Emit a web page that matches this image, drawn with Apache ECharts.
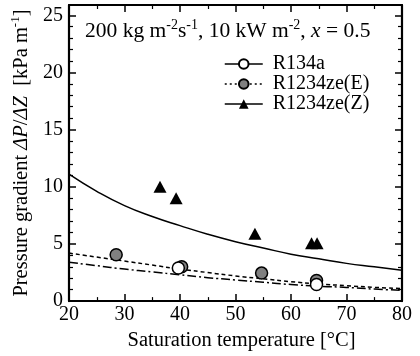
<!DOCTYPE html>
<html>
<head>
<meta charset="utf-8">
<script src="https://cdn.jsdelivr.net/npm/echarts@6/dist/echarts.min.js"></script>
<style>html,body{margin:0;padding:0;background:#fff}#c{width:420px;height:356px}</style>
</head>
<body>
<div id="c"></div>
<script>
// Curve temperatures and values
var curveT = [20, 25, 30, 35, 40, 45, 50, 55, 60, 65, 70, 75, 80];
var curveZ = [11.1, 9.6, 8.35, 7.4, 6.6, 5.85, 5.2, 4.65, 4.1, 3.7, 3.3, 3.0, 2.7];
var curveE = [4.2, 3.85, 3.5, 3.15, 2.8, 2.5, 2.2, 1.95, 1.7, 1.5, 1.35, 1.2, 1.1];
var curveR134a = [3.4, 3.1, 2.8, 2.55, 2.3, 2.05, 1.85, 1.65, 1.45, 1.3, 1.2, 1.05, 0.95];
// Measured points
var ptsZ_T = [36.4, 39.3, 53.5, 63.7, 64.7];
var ptsZ_V = [10.0, 9.0, 5.9, 5.05, 5.05];
var ptsE_T = [28.5, 40.3, 54.7, 64.6];
var ptsE_V = [4.05, 3.0, 2.45, 1.8];
var ptsR_T = [39.7, 64.6];
var ptsR_V = [2.9, 1.45];
var xTicks = [20, 30, 40, 50, 60, 70, 80];
var yTicks = [0, 5, 10, 15, 20, 25];
var seriesNames = ['R134a', 'R1234ze(E)', 'R1234ze(Z)'];

function zip(a, b) { return a.map(function (v, i) { return [v, b[i]]; }); }

var FONT = 'Liberation Serif';
var chart = echarts.init(document.getElementById('c'), null, { renderer: 'canvas' });
var axisCommon = {
  type: 'value',
  axisLine: { show: true, onZero: false, lineStyle: { color: '#000', width: 2.2 } },
  axisTick: { show: true, inside: true, length: 7, lineStyle: { color: '#000', width: 1.5 } },
  minorTick: { show: true, length: 4, lineStyle: { color: '#000', width: 1.2 } },
  splitLine: { show: false },
  minorSplitLine: { show: false }
};
function richSet(size, supSize, lh) {
  return {
    n: { fontFamily: FONT, fontSize: size, fontWeight: 'normal', color: '#000', lineHeight: lh, verticalAlign: 'bottom' },
    i: { fontFamily: FONT, fontSize: size, fontWeight: 'normal', color: '#000', fontStyle: 'italic', lineHeight: lh, verticalAlign: 'bottom' },
    s: { fontFamily: FONT, fontSize: supSize, fontWeight: 'normal', color: '#000', lineHeight: lh, verticalAlign: 'top' }
  };
}

var option = {
  animation: false,
  backgroundColor: '#fff',
  title: {
    left: 85, top: 18, padding: 0,
    text: '{n|200 kg m}{s|-2}{n|s}{s|-1}{n|, 10 kW m}{s|-2}{n|, }{i|x}{n| = 0.5}',
    textStyle: { fontWeight: 'normal', rich: richSet(21.5, 14, 24) }
  },
  grid: { left: 69, right: 18, top: 5, bottom: 48 },
  legend: {
    orient: 'vertical', left: 224, top: 54, padding: 0,
    itemWidth: 38, itemHeight: 12, itemGap: 0,
    textStyle: { fontFamily: FONT, fontSize: 20, color: '#000', lineHeight: 20, padding: [0, 0, 0, 5] },
    data: [
      { name: 'R134a', lineStyle: { opacity: 1, color: '#000', width: 1.5, type: 'solid' } },
      { name: 'R1234ze(E)', lineStyle: { opacity: 1, color: '#000', width: 1.5, type: [2, 3] } },
      { name: 'R1234ze(Z)', lineStyle: { opacity: 1, color: '#000', width: 1.5, type: 'solid' } }
    ],
    selectedMode: false
  },
  xAxis: [
    Object.assign({}, axisCommon, {
      min: 20, max: 80, interval: 10, position: 'bottom',
      minorTick: Object.assign({}, axisCommon.minorTick, { splitNumber: 2 }),
      axisLabel: { fontFamily: FONT, fontSize: 20, color: '#000', margin: 4,
        formatter: function (v) { return xTicks.indexOf(v) >= 0 ? String(v) : ''; } },
      name: 'Saturation temperature [°C]', nameLocation: 'middle', nameGap: 17,
      nameTextStyle: { fontFamily: FONT, fontSize: 20.5, color: '#000', padding: [0, 0, 0, 12] }
    }),
    Object.assign({}, axisCommon, {
      min: 20, max: 80, interval: 10, position: 'top',
      minorTick: Object.assign({}, axisCommon.minorTick, { splitNumber: 2 }),
      axisLabel: { show: false }
    })
  ],
  yAxis: [
    Object.assign({}, axisCommon, {
      min: 0, max: 25.9, interval: 5, position: 'left',
      minorTick: Object.assign({}, axisCommon.minorTick, { splitNumber: 5 }),
      axisLabel: { fontFamily: FONT, fontSize: 20, color: '#000', margin: 6, showMaxLabel: false,
        formatter: function (v) { return yTicks.indexOf(v) >= 0 ? String(v) : ''; } },
      name: '{n|Pressure gradient }{i|ΔP}{n|/}{i|ΔZ}{n|  [kPa m}{s|-1}{n|]}',
      nameLocation: 'middle', nameRotate: 90, nameGap: 29,
      nameTextStyle: { rich: richSet(20.5, 13, 23), padding: [0, 0, 0, 0] }
    }),
    Object.assign({}, axisCommon, {
      min: 0, max: 25.9, interval: 5, position: 'right',
      minorTick: Object.assign({}, axisCommon.minorTick, { splitNumber: 5 }),
      axisLabel: { show: false }
    })
  ],
  series: [
    { name: 'R1234ze(Z) curve', type: 'line', smooth: true, showSymbol: false, silent: true,
      data: zip(curveT, curveZ), lineStyle: { color: '#000', width: 1.5, type: 'solid' } },
    { name: 'R1234ze(E) curve', type: 'line', smooth: true, showSymbol: false, silent: true,
      data: zip(curveT, curveE), lineStyle: { color: '#000', width: 1.5, type: [4, 3] } },
    { name: 'R134a curve', type: 'line', smooth: true, showSymbol: false, silent: true,
      data: zip(curveT, curveR134a), lineStyle: { color: '#000', width: 1.5, type: [9, 3, 2, 3] } },
    { name: 'R1234ze(E)', type: 'line', symbol: 'circle', symbolSize: 12, silent: true,
      data: zip(ptsE_T, ptsE_V), lineStyle: { opacity: 0 },
      itemStyle: { color: '#808080', borderColor: '#000', borderWidth: 1.5 } },
    { name: 'R134a', type: 'line', symbol: 'circle', symbolSize: 12, silent: true,
      data: zip(ptsR_T, ptsR_V), lineStyle: { opacity: 0 },
      itemStyle: { color: '#fff', borderColor: '#000', borderWidth: 1.5 } },
    { name: 'R1234ze(Z)', type: 'line', symbol: 'triangle', symbolSize: [13, 12], silent: true,
      data: zip(ptsZ_T, ptsZ_V), lineStyle: { opacity: 0 },
      itemStyle: { color: '#000', borderColor: '#000', borderWidth: 0 } }
  ]
};
chart.setOption(option);
</script>
</body>
</html>
